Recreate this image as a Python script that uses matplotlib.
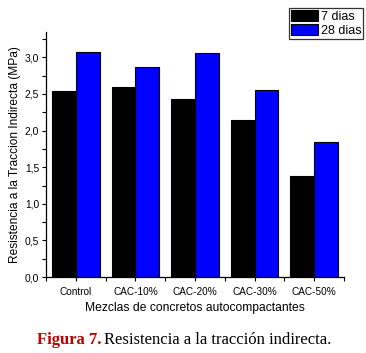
import numpy as np
import matplotlib
matplotlib.use('Agg')
import matplotlib.pyplot as plt
from matplotlib.ticker import FixedLocator, MultipleLocator, FuncFormatter

MIXES = ['Control', 'CAC-10%', 'CAC-20%', 'CAC-30%', 'CAC-50%']
DAYS_7 = [2.54, 2.60, 2.43, 2.14, 1.38]
DAYS_28 = [3.08, 2.87, 3.06, 2.56, 1.85]
SERIES = ['7 dias', '28 dias']

plt.rcParams['font.family'] = ['Liberation Sans', 'DejaVu Sans']

fig = plt.figure(figsize=(3.66, 3.53), dpi=100)
ax = fig.add_axes([0.126, 0.215, 0.814, 0.693])

x = np.arange(len(MIXES))
w = 0.4
ax.bar(x - w / 2, DAYS_7, width=w, color='black', edgecolor='black',
       linewidth=0.8, label=SERIES[0])
ax.bar(x + w / 2, DAYS_28, width=w, color='#0000ff', edgecolor='black',
       linewidth=0.8, label=SERIES[1])

ax.set_xlim(-0.5, len(MIXES) - 0.5)
ax.set_ylim(0, 3.34)
ax.set_xticks(x)
ax.set_xticklabels(MIXES, fontsize=7.2)
ax.xaxis.set_minor_locator(FixedLocator(np.arange(-0.5, len(MIXES), 1.0)))
ax.yaxis.set_major_locator(MultipleLocator(0.5))
ax.yaxis.set_minor_locator(MultipleLocator(0.25))
ax.yaxis.set_major_formatter(FuncFormatter(lambda v, p: f'{v:.1f}'.replace('.', ',')))
ax.tick_params(axis='y', labelsize=7.4, length=3, width=0.8, pad=2)
ax.tick_params(axis='x', length=3, width=0.8, pad=4)
ax.tick_params(which='minor', length=3, width=0.8)
for s in ('top', 'right'):
    ax.spines[s].set_visible(False)
for s in ('left', 'bottom'):
    ax.spines[s].set_linewidth(0.9)

ax.set_ylabel('Resistencia a la Traccion Indirecta (MPa)', fontsize=8.6, labelpad=3)
ax.set_xlabel('Mezclas de concretos autocompactantes', fontsize=8.7, labelpad=4)

leg = fig.legend(loc='upper right', bbox_to_anchor=(0.993, 0.978), fontsize=9,
                 frameon=True, fancybox=False, edgecolor='black',
                 handlelength=2.2, handleheight=1.0, handletextpad=0.2,
                 borderpad=0.15, labelspacing=0.1, borderaxespad=0)
leg.get_frame().set_linewidth(0.9)

fig.text(37 / 366, 0.037, 'Figura 7.', color='#c00000', fontsize=12,
         fontweight='bold', family='Liberation Serif', ha='left', va='center')
fig.text(104 / 366, 0.037, 'Resistencia a la tracción indirecta.', color='black',
         fontsize=12, family='Liberation Serif', ha='left', va='center')

fig.savefig('out.png', dpi=100)
